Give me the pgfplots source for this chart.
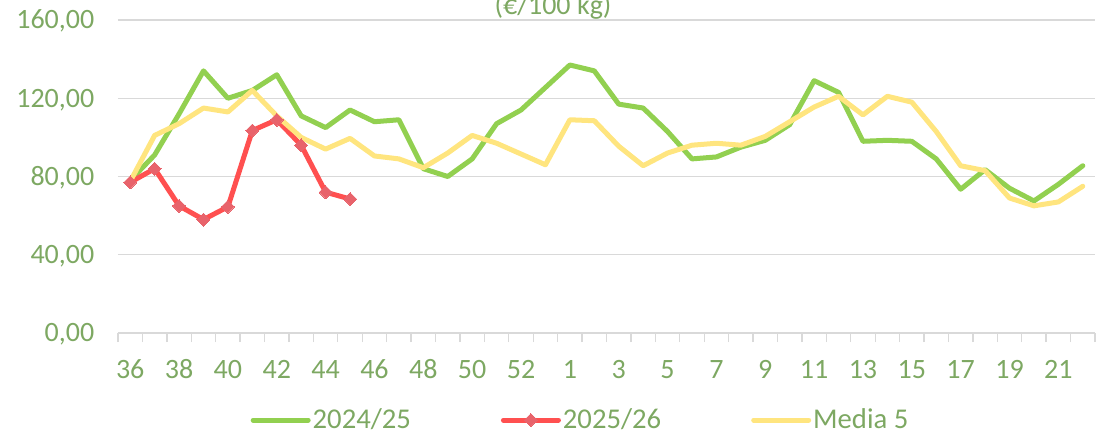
\documentclass[border=0pt]{standalone}
\usepackage{fontspec}
\setmainfont{Carlito}
\usepackage{pgfplots}
\pgfplotsset{compat=1.18}
\definecolor{txt}{HTML}{7DA862}
\definecolor{gridgray}{HTML}{D9D9D9}
\definecolor{cgreen}{HTML}{92D050}
\definecolor{cred}{HTML}{FF5050}
\definecolor{cmark}{HTML}{E8636B}
\definecolor{cyellow}{HTML}{FFE57F}
\pgfplotstableread{
x y
0 78
1 91
2 112
3 134
4 120
5 124
6 132
7 111
8 105
9 114
10 108
11 109
12 84
13 80
14 89
15 107
16 114
17 125.5
18 137
19 134
20 117
21 115
22 103
23 89
24 90
25 95
26 98.5
27 106.5
28 129
29 123
30 98
31 98.5
32 98
33 89
34 73.5
35 83.5
36 74
37 67.5
38 76
39 85.5
}\tgreen
\pgfplotstableread{
x y
0 77
1 84
2 65
3 58
4 64.5
5 103.5
6 109
7 96
8 72
9 68.5
}\tred
\pgfplotstableread{
x y
0 77.5
1 101
2 107
3 115
4 113
5 124
6 111
7 100
8 94
9 99.5
10 90.5
11 89
12 84.5
13 92
14 101
15 97
16 91.5
17 86
18 109
19 108.5
20 95.5
21 85.5
22 92
23 96
24 97
25 96
26 100.5
27 108
28 115.5
29 121
30 111.5
31 121
32 118
33 103
34 85.5
35 83
36 69
37 65
38 67
39 75
}\tyellow
\begin{document}
\begin{tikzpicture}[x=1pt,y=1pt]
\begin{axis}[
  at={(0,0)}, anchor=south west,
  scale only axis, width=732.75pt, height=234.75pt,
  xmin=-0.5, xmax=39.5, ymin=0, ymax=160,
  ytick={0,40,...,160},
  xtick={0,2,...,38},
  xticklabels={36,38,40,42,44,46,48,50,52,1,3,5,7,9,11,13,15,17,19,21},
  minor xtick={-0.5,0.5,...,39.5},
  major tick length=0pt, minor tick length=6.75pt, tick align=outside,
  axis x line*=bottom, axis y line*=left,
  x axis line style={draw=gridgray, line width=1.1pt, -},
  y axis line style={draw=none},
  minor x tick style={draw=gridgray, line width=1pt},
  major x tick style={draw=none},
  ytick style={draw=none},
  ymajorgrids, grid style={draw=gridgray, line width=1.1pt},
  ticklabel style={font=\fontsize{21}{25}\selectfont, text=txt},
  xticklabel style={anchor=base, yshift=-33.75pt},
  yticklabel style={anchor=base east, inner sep=0pt, xshift=-17.6pt, yshift=-6.65pt,
    /pgf/number format/fixed, /pgf/number format/fixed zerofill,
    /pgf/number format/precision=2, /pgf/number format/use comma,
    /pgf/number format/1000 sep={}, /pgf/number format/assume math mode=true},
  legend columns=3,
  legend style={at={(0.4734,-0.278)}, anchor=center, draw=none, fill=none,
    font=\fontsize{21.5}{25}\selectfont, text=txt,
    nodes={inner sep=1.5pt},
    /tikz/every even column/.append style={column sep=66pt}},
  legend image code/.code={\draw[mark repeat=2,mark phase=2,#1] plot coordinates {(0pt,0pt) (20.6pt,0pt) (41.25pt,0pt)};},
  every axis plot/.append style={line join=round, line cap=round},
]
\addplot[cgreen, line width=3.75pt, mark=none] table[x=x,y=y] {\tgreen};
\addlegendentry{2024/25}
\addplot[cred, line width=3.75pt, mark=square*, mark size=3.45pt, mark options={rotate=45, fill=cmark, draw=cmark, line width=0pt}] table[x=x,y=y] {\tred};
\addlegendentry{2025/26}
\addplot[cyellow, line width=3.75pt, mark=none] table[x=x,y=y] {\tyellow};
\addlegendentry{Media 5}
\end{axis}
\node[anchor=base, font=\fontsize{21}{25}\selectfont, text=txt] at (326.25pt,239.25pt) {(€/100 kg)};
\pgfresetboundingbox
\useasboundingbox (-88.5pt,-75pt) rectangle (745.5pt,249.75pt);
\end{tikzpicture}
\end{document}
